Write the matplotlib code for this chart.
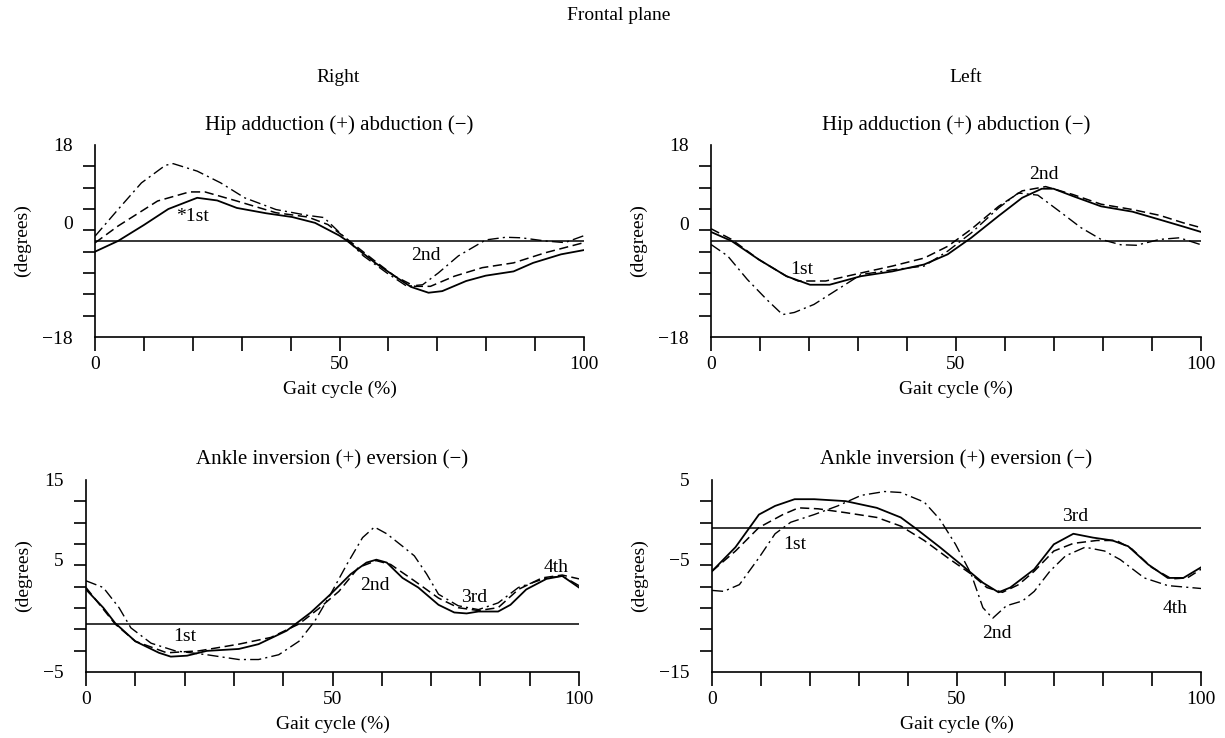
import numpy as np
import matplotlib.pyplot as plt

plt.rcParams['font.family'] = ['Liberation Serif', 'DejaVu Serif']

# cadera derecha
hipR_sol_x = [0, 4.7, 10, 15, 20.9, 25, 29, 35, 40.3, 45, 50, 51.6, 57.3, 61.3, 64.6, 68.2, 71, 75.9, 79.9, 85.6, 89.6, 95.3, 100]
hipR_sol_y = [-2.0, 0.0, 3.0, 6.0, 8.1, 7.6, 6.2, 5.2, 4.5, 3.4, 1.0, 0.0, -4.1, -6.6, -8.6, -9.7, -9.4, -7.5, -6.5, -5.7, -4.1, -2.5, -1.7]
hipR_das_x = [0, 4.7, 12.8, 19.3, 22.5, 29, 37, 43.5, 47.6, 50.8, 57.3, 61.3, 65.4, 68.6, 73.5, 79.2, 85.6, 92.1, 100]
hipR_das_y = [-0.35, 2.8, 7.5, 9.2, 9.2, 7.5, 5.3, 4.5, 3.1, 0.9, -3.8, -6.6, -8.5, -8.5, -6.6, -5.0, -4.1, -2.2, -0.3]
hipR_dd_x = [0, 4.7, 9.5, 14.4, 16, 20.9, 25.7, 30.6, 37, 43.5, 46.8, 50.8, 54.9, 59.7, 63.8, 67, 70.2, 74.3, 79.9, 84, 87.2, 92.1, 96.1, 100]
hipR_dd_y = [0.9, 5.9, 10.9, 14.2, 14.5, 13.1, 10.9, 8.1, 5.9, 4.8, 4.4, 0.9, -2.8, -6.0, -8.5, -8.2, -6.0, -2.8, 0.2, 0.7, 0.6, 0.0, -0.3, 1.0]

# cadera izquierda
hipL_sol_x = [0, 4.2, 9.8, 15.4, 20.2, 24.2, 30.6, 37, 43.5, 48.3, 53.1, 58.7, 63.5, 67.5, 69.9, 73.9, 79.6, 86, 91.6, 96.4, 100]
hipL_sol_y = [1.7, 0.0, -3.5, -6.6, -8.2, -8.2, -6.6, -5.7, -4.4, -2.5, 0.6, 4.7, 8.1, 9.8, 9.8, 8.4, 6.5, 5.5, 4.0, 2.7, 1.7]
hipL_das_x = [0, 4.2, 9.8, 15.4, 17.8, 23.4, 30.6, 37, 43.5, 48.3, 53.1, 58.7, 63.5, 68.3, 73.9, 79.6, 86, 91.6, 96.4, 100]
hipL_das_y = [2.3, 0.3, -3.5, -6.6, -7.5, -7.5, -6.0, -4.7, -3.2, -1.0, 2.2, 6.5, 9.4, 10.2, 8.7, 6.9, 5.9, 4.8, 3.4, 2.5]
hipL_dd_x = [0, 3.4, 7.4, 11.4, 14.6, 17, 21, 25.8, 30.6, 37, 43.5, 48.3, 53.1, 58.7, 62.7, 66.7, 71.5, 75.5, 79.6, 83.6, 86.8, 91.6, 95.6, 100]
hipL_dd_y = [-0.65, -2.8, -7.2, -11.0, -13.8, -13.4, -11.9, -9.1, -6.3, -5.4, -4.7, -1.9, 1.5, 6.2, 9.0, 8.6, 5.3, 2.5, 0.3, -0.7, -0.8, 0.3, 0.6, -0.7]

# tobillo derecho
ankR_sol_x = [0, 3.5, 5.9, 10, 14.8, 17.2, 20.5, 24.5, 31, 35, 40.7, 45.6, 49.6, 53.7, 56.9, 58.9, 61, 64.2, 67.4, 71.5, 74.7, 77.2, 79.6, 83.6, 86.1, 89.3, 93.4, 96.6, 100]
ankR_sol_y = [3.6, 1.7, 0.1, -1.8, -3.0, -3.4, -3.3, -2.8, -2.6, -2.1, -0.7, 1.2, 3.1, 5.2, 6.4, 6.7, 6.4, 4.8, 3.8, 2.0, 1.2, 1.1, 1.3, 1.3, 2.0, 3.6, 4.7, 5.0, 3.8]
ankR_das_x = [0, 5.9, 10, 16.4, 22.9, 31, 37.5, 43.2, 47.2, 51.3, 55.3, 58.9, 61.8, 66.6, 71.5, 75.5, 79.6, 83.6, 87.7, 92.5, 96.6, 100]
ankR_das_y = [3.8, 0.0, -1.8, -3.0, -2.8, -2.1, -1.4, 0.0, 1.6, 3.4, 5.9, 6.6, 6.2, 4.5, 2.7, 1.7, 1.4, 1.7, 3.6, 4.8, 5.1, 4.7]
ankR_dd_x = [0, 3.5, 6.7, 9.1, 13.2, 18.1, 24.5, 31, 35, 39.1, 43.2, 46.4, 49.6, 52.9, 56.1, 58.5, 61, 64.2, 66.6, 69.1, 71.5, 75.5, 79.6, 83.6, 87.7, 93.4, 96.6, 100]
ankR_dd_y = [4.5, 3.8, 1.7, -0.4, -2.0, -2.8, -3.2, -3.7, -3.7, -3.2, -1.8, 0.3, 3.1, 6.2, 9.0, 10.1, 9.4, 8.1, 7.1, 5.2, 3.1, 1.9, 1.5, 2.2, 3.8, 4.8, 5.0, 4.0]

# tobillo izquierdo
ankL_sol_x = [0, 4.8, 9.6, 12.9, 16.9, 20.9, 27.3, 33.7, 38.6, 41.8, 46.6, 51.4, 55.4, 58.6, 61, 65.9, 69.9, 73.9, 77.9, 81.9, 85.1, 89.2, 93.2, 96.4, 100]
ankL_sol_y = [-4.5, -2.0, 1.4, 2.3, 3.0, 3.0, 2.8, 2.1, 1.1, -0.1, -2.0, -4.0, -5.7, -6.7, -6.2, -4.3, -1.7, -0.6, -1.0, -1.3, -1.9, -3.8, -5.2, -5.2, -4.1]
ankL_das_x = [0, 4.8, 9.6, 14.5, 17.7, 21.7, 27.3, 33.7, 38.6, 43.4, 48.2, 53, 56.2, 59.4, 62.7, 65.9, 69.9, 73.9, 78.7, 82.7, 85.9, 89.9, 94, 97.2, 100]
ankL_das_y = [-4.5, -2.4, 0.05, 1.4, 2.1, 2.0, 1.6, 1.1, 0.2, -1.3, -3.1, -4.8, -6.2, -6.7, -5.9, -4.5, -2.4, -1.6, -1.3, -1.3, -2.2, -4.1, -5.3, -5.2, -4.3]
ankL_dd_x = [0, 2.4, 5.6, 9.6, 12.9, 16.1, 20.9, 25.7, 30.5, 35.3, 38.6, 43.4, 46.6, 49.8, 53, 55.4, 57.4, 60.2, 63.5, 65.9, 69.1, 72.3, 76.3, 80.3, 83.5, 88.4, 93.2, 100]
ankL_dd_y = [-6.5, -6.6, -5.9, -3.1, -0.6, 0.6, 1.4, 2.3, 3.4, 3.8, 3.7, 2.7, 0.9, -1.7, -4.8, -8.3, -9.4, -8.1, -7.6, -6.6, -4.5, -2.9, -2.0, -2.4, -3.3, -5.2, -6.0, -6.3]

W, H = 1225, 738
FS = 14

def ejes(x0, y0, x1, y1):
    return fig.add_axes([x0 / W, 1 - y1 / H, (x1 - x0) / W, (y1 - y0) / H])

def grafica(ax, sol, das, dd, ylim, ylabels, etiquetas, titulo):
    ax.plot(sol[0], sol[1], color='black', lw=1.3, ls='-')
    ax.plot(das[0], das[1], color='black', lw=1.1, ls=(0, (6, 3)))
    ax.plot(dd[0], dd[1], color='black', lw=1.0, ls=(0, (8, 3, 1.5, 3)))
    ax.axhline(0, color='black', lw=1.1)
    ax.set_xlim(0, 100)
    ax.set_ylim(*ylim)
    for s in ['top', 'right']:
        ax.spines[s].set_visible(False)
    for s in ['left', 'bottom']:
        ax.spines[s].set_linewidth(1.2)
    ax.set_xticks(np.arange(0, 101, 10), minor=True)
    ax.set_xticks([0, 50, 100])
    ax.set_xticklabels(['0', '50', '100'])
    ax.set_yticks(np.linspace(ylim[0], ylim[1], 10), minor=True)
    ax.set_yticks([p for p, t in ylabels])
    ax.set_yticklabels([t for p, t in ylabels])
    ax.tick_params(which='both', direction='out', width=1.2, labelsize=FS)
    ax.tick_params(axis='x', which='both', length=10, pad=4)
    ax.tick_params(axis='y', which='minor', length=9)
    ax.tick_params(axis='y', which='major', length=0, pad=16)
    ax.set_ylabel('(degrees)', fontsize=FS, labelpad=8)
    ax.set_xlabel('Gait cycle (%)', fontsize=FS, labelpad=5)
    ax.set_title(titulo, fontsize=15, pad=11)
    for x, y, t in etiquetas:
        ax.text(x, y, t, fontsize=FS, ha='center', va='center')


fig = plt.figure(figsize=(W / 100, H / 100), dpi=100)

ax1 = ejes(95, 145, 584, 337)
grafica(ax1, (hipR_sol_x, hipR_sol_y), (hipR_das_x, hipR_das_y), (hipR_dd_x, hipR_dd_y),
        (-18, 18), [(18, '18'), (3.4, '0'), (-18, '\u221218')],
        [(20, 4.5, '*1st'), (67.6, -2.7, '2nd')], 'Hip adduction (+) abduction (\u2212)')

ax2 = ejes(711, 145, 1201, 337)
grafica(ax2, (hipL_sol_x, hipL_sol_y), (hipL_das_x, hipL_das_y), (hipL_dd_x, hipL_dd_y),
        (-18, 18), [(18, '18'), (3.2, '0'), (-18, '\u221218')],
        [(18.6, -5.4, '1st'), (67.9, 12.4, '2nd')], 'Hip adduction (+) abduction (\u2212)')

ax3 = ejes(86, 480, 579, 672)
grafica(ax3, (ankR_sol_x, ankR_sol_y), (ankR_das_x, ankR_das_y), (ankR_dd_x, ankR_dd_y),
        (-5, 15), [(15, '15'), (6.7, '5'), (-5, '\u22125')],
        [(20.1, -1.3, '1st'), (58.5, 4.0, '2nd'), (78.8, 2.8, '3rd'), (95.4, 5.9, '4th')],
        'Ankle inversion (+) eversion (\u2212)')

ax4 = ejes(712, 480, 1201, 672)
grafica(ax4, (ankL_sol_x, ankL_sol_y), (ankL_das_x, ankL_das_y), (ankL_dd_x, ankL_dd_y),
        (-15, 5), [(5, '5'), (-3.3, '\u22125'), (-15, '\u221215')],
        [(16.9, -1.7, '1st'), (58.2, -11.0, '2nd'), (74.3, 1.2, '3rd'), (94.8, -8.4, '4th')],
        'Ankle inversion (+) eversion (\u2212)')

fig.text(619 / W, 1 - 15 / H, 'Frontal plane', fontsize=FS, ha='center', va='center')
fig.text(338 / W, 1 - 77 / H, 'Right', fontsize=FS, ha='center', va='center')
fig.text(966 / W, 1 - 77 / H, 'Left', fontsize=FS, ha='center', va='center')

plt.savefig('out.png', dpi=100)
